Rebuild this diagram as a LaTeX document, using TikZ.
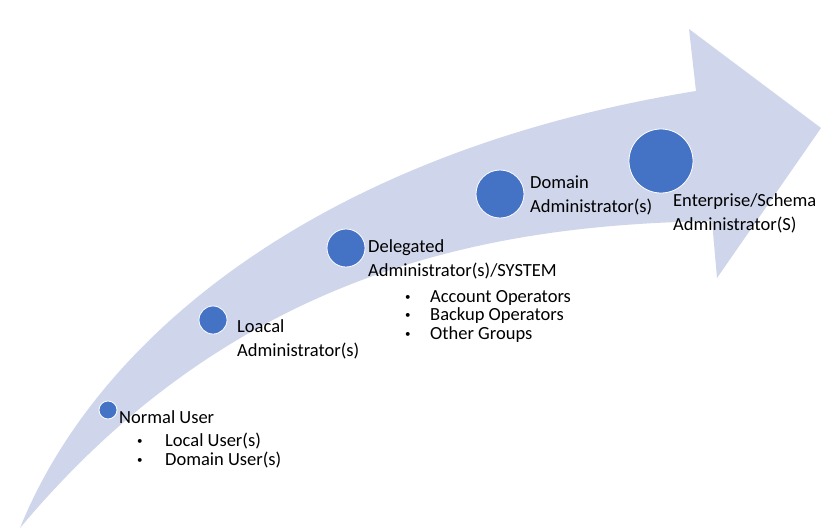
\documentclass[tikz,border=0pt]{standalone}
\usepackage{fontspec}
\setmainfont{Carlito}
\definecolor{arrowfill}{HTML}{CFD5EA}
\definecolor{dotblue}{HTML}{4472C4}
\newcommand{\blt}[1]{\makebox[#1][l]{\fontsize{11}{11}\selectfont\raisebox{2pt}{•}}}
\begin{document}
\begin{tikzpicture}[x=1pt,y=-1pt,
  dot/.style={circle, fill=dotblue, draw=white, line width=0.8pt, inner sep=0pt},
  lbl/.style={anchor=base west, inner sep=0pt, align=left, font=\fontsize{18.5}{24}\selectfont},
  blist/.style={anchor=base west, inner sep=0pt, align=left, font=\fontsize{18.5}{18.2}\selectfont}]
\useasboundingbox (0,0) rectangle (825,531);
% curved arrow
\fill[arrowfill] (20,528) .. controls (100,330) and (330,150) .. (696,91)
  -- (689,29) -- (821,128) -- (717,278) -- (712,221)
  .. controls (500,225) and (240,265) .. (20,528) -- cycle;
% circles
\node[dot, minimum size=18pt] (c1) at (108,410) {};
\node[dot, minimum size=28pt] (c2) at (213,320) {};
\node[dot, minimum size=38pt] (c3) at (346,248) {};
\node[dot, minimum size=48pt] (c4) at (500,194) {};
\node[dot, minimum size=64pt] (c5) at (661,161) {};
% labels (anchor = baseline of last line)
\node[lbl] (t1) at (119,423) {Normal User};
\node[blist] (b1) at (137,465) {\blt{28pt}Local User(s)\\\blt{28pt}Domain User(s)};
\node[lbl] (t2) at (237,356) {Loacal\\Administrator(s)};
\node[lbl] (t3) at (368,276) {Delegated\\Administrator(s)/SYSTEM};
\node[blist] (b3) at (405,339) {\blt{25pt}Account Operators\\\blt{25pt}Backup Operators\\\blt{25pt}Other Groups};
\node[lbl] (t4) at (530,212) {Domain\\Administrator(s)};
\node[lbl] (t5) at (673,230) {Enterprise/Schema\\Administrator(S)};
\end{tikzpicture}
\end{document}
